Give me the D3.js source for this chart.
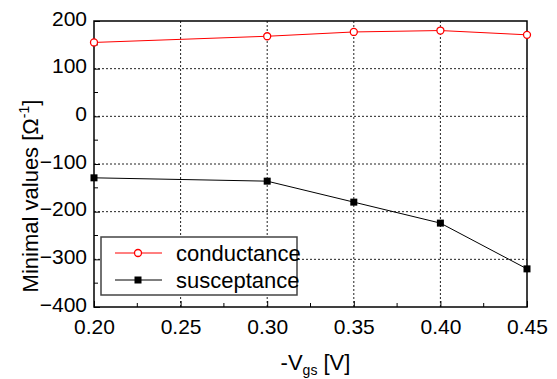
<!DOCTYPE html>
<html>
<head>
<meta charset="utf-8">
<script src="https://cdn.jsdelivr.net/npm/d3@7"></script>
<style>
  body { margin: 0; background: #fff; }
  svg { display: block; font-family: "Liberation Sans", Arial, sans-serif; }
</style>
</head>
<body>
<svg id="chart" width="557" height="379"></svg>
<script>
// Data
const vgs = [0.20, 0.30, 0.35, 0.40, 0.45];
const conductance = [155, 168, 177, 180, 171];
const susceptance = [-129, -136, -180, -224, -320];
const xTicks = [0.20, 0.25, 0.30, 0.35, 0.40, 0.45];
const yTicks = [-400, -300, -200, -100, 0, 100, 200];

const svg = d3.select("#chart");
const margin = { top: 21, right: 30, bottom: 72, left: 94 };
const width = 557 - margin.left - margin.right;
const height = 379 - margin.top - margin.bottom;

const g = svg.append("g")
  .attr("transform", `translate(${margin.left},${margin.top})`);

// Scales
const x = d3.scaleLinear().domain([0.20, 0.45]).range([0, width]);
const y = d3.scaleLinear().domain([-400, 200]).range([height, 0]);

// Grid lines (dashed)
g.append("g")
  .selectAll("line")
  .data(xTicks.slice(1, -1))
  .enter()
  .append("line")
  .attr("x1", d => x(d)).attr("x2", d => x(d))
  .attr("y1", 0).attr("y2", height)
  .attr("stroke", "#222")
  .attr("stroke-width", 1)
  .attr("stroke-dasharray", "2,2");

g.append("g")
  .selectAll("line")
  .data(yTicks.slice(1, -1))
  .enter()
  .append("line")
  .attr("x1", 0).attr("x2", width)
  .attr("y1", d => y(d)).attr("y2", d => y(d))
  .attr("stroke", "#222")
  .attr("stroke-width", 1)
  .attr("stroke-dasharray", "2,2");

// Axes with inward ticks
const xAxis = g.append("g")
  .attr("transform", `translate(0,${height})`)
  .call(d3.axisBottom(x).tickValues(xTicks).tickFormat(d3.format(".2f"))
    .tickSizeInner(-6).tickSizeOuter(0).tickPadding(12));
xAxis.selectAll("text").style("font-size", "21px").style("fill", "#000");

const yAxis = g.append("g")
  .call(d3.axisLeft(y).tickValues(yTicks).tickFormat(d3.format("d"))
    .tickSizeInner(-6).tickSizeOuter(0).tickPadding(7));
yAxis.selectAll("text").style("font-size", "21px").style("fill", "#000")
  .attr("dy", "0.2em");

// Minor ticks
g.append("g")
  .selectAll("line")
  .data(d3.range(0.225, 0.45, 0.05))
  .enter()
  .append("line")
  .attr("x1", d => x(d)).attr("x2", d => x(d))
  .attr("y1", height).attr("y2", height - 4)
  .attr("stroke", "#000");

g.append("g")
  .selectAll("line")
  .data(d3.range(-350, 200, 100))
  .enter()
  .append("line")
  .attr("x1", 0).attr("x2", 4)
  .attr("y1", d => y(d)).attr("y2", d => y(d))
  .attr("stroke", "#000");

g.selectAll(".domain").remove();

// Frame
g.append("rect")
  .attr("x", 0).attr("y", 0)
  .attr("width", width).attr("height", height)
  .attr("fill", "none")
  .attr("stroke", "#000")
  .attr("stroke-width", 1.5);

// Lines
const line = d3.line().x(d => x(d[0])).y(d => y(d[1]));
const condPts = vgs.map((v, i) => [v, conductance[i]]);
const suscPts = vgs.map((v, i) => [v, susceptance[i]]);

g.append("path").datum(condPts)
  .attr("d", line).attr("fill", "none")
  .attr("stroke", "#ff0000").attr("stroke-width", 1);

g.append("path").datum(suscPts)
  .attr("d", line).attr("fill", "none")
  .attr("stroke", "#000").attr("stroke-width", 1);

// Markers
g.selectAll(".cond-pt")
  .data(condPts)
  .enter()
  .append("circle")
  .attr("class", "cond-pt")
  .attr("cx", d => x(d[0])).attr("cy", d => y(d[1]))
  .attr("r", 3.5)
  .attr("fill", "#fff")
  .attr("stroke", "#ff0000")
  .attr("stroke-width", 1.3);

g.selectAll(".susc-pt")
  .data(suscPts)
  .enter()
  .append("rect")
  .attr("class", "susc-pt")
  .attr("x", d => x(d[0]) - 3.5).attr("y", d => y(d[1]) - 3.5)
  .attr("width", 7).attr("height", 7)
  .attr("fill", "#000");

// Legend
const legend = svg.append("g").attr("transform", "translate(101,237)");
legend.append("rect")
  .attr("width", 196).attr("height", 58)
  .attr("fill", "#fff")
  .attr("stroke", "#444")
  .attr("stroke-width", 1.5);

const legendItems = [
  { label: "conductance", color: "#ff0000", marker: "circle" },
  { label: "susceptance", color: "#000", marker: "square" }
];
legendItems.forEach((item, i) => {
  const cy = 16 + i * 27;
  legend.append("line")
    .attr("x1", 14).attr("x2", 61)
    .attr("y1", cy).attr("y2", cy)
    .attr("stroke", item.color).attr("stroke-width", 1);
  if (item.marker === "circle") {
    legend.append("circle")
      .attr("cx", 37).attr("cy", cy).attr("r", 3.5)
      .attr("fill", "#fff").attr("stroke", item.color).attr("stroke-width", 1.3);
  } else {
    legend.append("rect")
      .attr("x", 33.5).attr("y", cy - 3.5)
      .attr("width", 7).attr("height", 7)
      .attr("fill", item.color);
  }
  legend.append("text")
    .attr("x", 75).attr("y", cy + 7.5)
    .style("font-size", "22px")
    .text(item.label);
});

// Axis titles
const xTitle = svg.append("text")
  .attr("x", margin.left + width / 2 + 5)
  .attr("y", 370)
  .attr("text-anchor", "middle")
  .style("font-size", "22px");
xTitle.append("tspan").text("-V");
xTitle.append("tspan").attr("dy", 5).style("font-size", "14px").text("gs");
xTitle.append("tspan").attr("dy", -5).text(" [V]");

const yTitle = svg.append("text")
  .attr("transform", "translate(38,196) rotate(-90)")
  .attr("text-anchor", "middle")
  .style("font-size", "22px");
yTitle.append("tspan").text("Minimal values [Ω");
yTitle.append("tspan").attr("dy", -9).style("font-size", "14px").text("-1");
yTitle.append("tspan").attr("dy", 9).text("]");
</script>
</body>
</html>
